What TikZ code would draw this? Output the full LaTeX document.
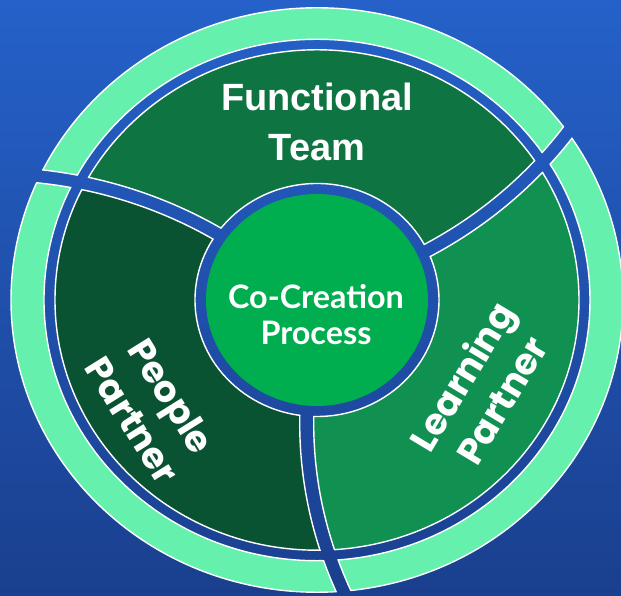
\documentclass[tikz,border=0pt]{standalone}
\usepackage{fontspec}
\usepackage{xcolor}
\newfontfamily\headfont{Liberation Sans}
\newfontfamily\partfont{Poppins}
\newfontfamily\corefont{Lato}
\definecolor{bgtop}{HTML}{2561C9}
\definecolor{bgbot}{HTML}{1A3F8E}
\definecolor{mint}{HTML}{66F0AE}
\definecolor{teamgreen}{HTML}{0D7442}
\definecolor{peoplegreen}{HTML}{0A5332}
\definecolor{learngreen}{HTML}{109152}
\definecolor{coregreen}{HTML}{00AD4F}

\begin{document}
\begin{tikzpicture}[x=0.025cm, y=0.025cm,
  backdrop/.style={top color=bgtop, bottom color=bgbot},
  rim/.style={white, line width=1pt},
  textlbl/.style={text=white, align=center}
]
  \useasboundingbox (-317,-296) rectangle (304,300);
  \shade[backdrop] (-317,-296) rectangle (304,300);
  \begin{scope}[yscale=0.955]
    % outer mint ring
    \fill[mint, even odd rule] (0,0) circle (306) (0,0) circle (273);
    \draw[rim] (0,0) circle (306) (0,0) circle (273);
    % three segments between the curved spokes
    \foreach \k/\col in {0/teamgreen, 1/peoplegreen, 2/learngreen} {
      \begin{scope}[rotate=120*\k, even odd rule]
        \clip (-102,435) circle (438);
        \clip (-1000,-1000) rectangle (1000,1000) (-325.7,-305.8) circle (438);
        \fill[\col] (0,0) circle (262) (0,0) circle (122);
      \end{scope}
    }
    \draw[rim] (0,0) circle (262) (0,0) circle (122);
    % spokes: cut back to the backdrop, then edge them
    \foreach \k in {0,1,2} {
      \begin{scope}[rotate=120*\k]
        \begin{scope}[shift={(-102,435)}]
          \clip (-70:445) arc[start angle=-70, end angle=-30, radius=445]
            -- (-30:431) arc[start angle=-30, end angle=-70, radius=431] -- cycle;
          \shade[backdrop, reset cm] (-317,-296) rectangle (304,300);
        \end{scope}
        \begin{scope}[even odd rule]
          \clip (0,0) circle (306.6) (0,0) circle (272.4) (0,0) circle (262.6) (0,0) circle (121.4);
          \begin{scope}[shift={(-102,435)}]
            \draw[rim] (-70:445) arc[start angle=-70, end angle=-30, radius=445]
              (-70:431) arc[start angle=-70, end angle=-30, radius=431];
          \end{scope}
        \end{scope}
      \end{scope}
    }
    % hub
    \fill[coregreen] (0,0) circle (111);
  \end{scope}
  % labels
  \node[textlbl, font=\headfont\bfseries\fontsize{27}{35.6}\selectfont] (team) at (0,178) {Functional\\Team};
  \node[textlbl, font=\corefont\bfseries\fontsize{23}{25.6}\selectfont] (core) at (-1,-15) {Co-Creation\\Process};
  \node[textlbl, rotate=59, font=\partfont\bfseries\fontsize{26}{33}\selectfont] (learn) at (164,-88) {Learning\\Partner};
  \node[textlbl, rotate=-58, font=\partfont\bfseries\fontsize{26}{33}\selectfont] (people) at (-165,-108) {People\\Partner};
\end{tikzpicture}
\end{document}
